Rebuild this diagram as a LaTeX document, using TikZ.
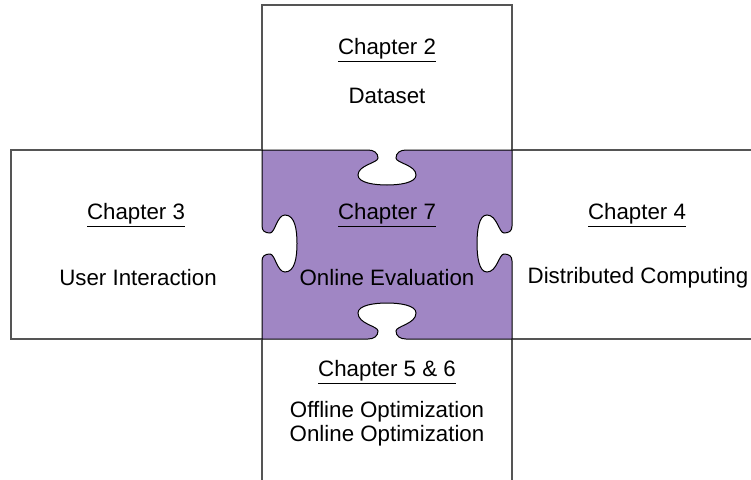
\documentclass[tikz,border=0pt]{standalone}
\usepackage{xcolor}
\usepackage{fontspec}
\setmainfont{Liberation Sans}
\usepackage{tikz}
\definecolor{piecepurple}{RGB}{160,134,196}
\definecolor{boxgray}{RGB}{85,85,85}
\tikzstyle{chapter} = [inner sep=0pt, font=\fontsize{22.3}{24}\selectfont, text centered]
\tikzstyle{topic} = [inner sep=0pt, font=\fontsize{22.3}{24}\selectfont, align=center]
\tikzstyle{frame} = [draw=boxgray, line width=1.5pt]
\tikzstyle{piece} = [draw=black, line width=1pt, fill=piecepurple]

\begin{document}
\begin{tikzpicture}[x=1pt, y=-1pt]

    \useasboundingbox (0,0) rectangle (751,479);

    % Boxes
    \draw [frame] (262,150) -- (262,5) -- (512,5) -- (512,150);
    \draw [frame] (262,150) -- (11,150) -- (11,339) -- (262,339);
    \draw [frame] (512,150) -- (760,150);
    \draw [frame] (512,339) -- (760,339);
    \draw [frame] (262,339) -- (262,485);
    \draw [frame] (512,339) -- (512,485);

    % Puzzle piece
    \draw [piece] (262,150) -- (368,150)
        .. controls (374,150) and (378,153) .. (378,158)
        .. controls (378,163) and (358,165) .. (358,175)
        .. controls (358,183) and (375,185) .. (387,185)
        .. controls (399,185) and (416,183) .. (416,175)
        .. controls (416,165) and (396,163) .. (396,158)
        .. controls (396,153) and (400,150) .. (406,150)
        -- (512,150) -- (512,226)
        .. controls (512,231) and (509,233) .. (504,233)
        .. controls (499,233) and (497,215) .. (487,215)
        .. controls (479,215) and (477,230) .. (477,243.5)
        .. controls (477,257) and (479,272) .. (487,272)
        .. controls (497,272) and (499,254) .. (504,254)
        .. controls (509,254) and (512,256) .. (512,261)
        -- (512,339) -- (406,339)
        .. controls (400,339) and (396,336) .. (396,331)
        .. controls (396,326) and (416,324) .. (416,313)
        .. controls (416,305) and (399,303) .. (387,303)
        .. controls (375,303) and (358,305) .. (358,313)
        .. controls (358,324) and (378,326) .. (378,331)
        .. controls (378,336) and (374,339) .. (368,339)
        -- (262,339) -- (262,261)
        .. controls (262,256) and (265,254) .. (270,254)
        .. controls (275,254) and (277,272) .. (285,272)
        .. controls (295,272) and (297,257) .. (297,243.5)
        .. controls (297,230) and (295,215) .. (285,215)
        .. controls (277,215) and (275,233) .. (270,233)
        .. controls (265,233) and (262,231) .. (262,226)
        -- cycle;

    % Nodes
    \node (ch2) [chapter] at (387,50) {\underline{Chapter 2}};
    \node (dataset) [topic] at (387,96) {Dataset};
    \node (ch3) [chapter] at (136,215) {\underline{Chapter 3}};
    \node (user) [topic] at (138,278) {User Interaction};
    \node (ch7) [chapter] at (387,215) {\underline{Chapter 7}};
    \node (online) [topic] at (387,278) {Online Evaluation};
    \node (ch4) [chapter] at (637,215) {\underline{Chapter 4}};
    \node (distributed) [topic] at (638,278) {Distributed Computing};
    \node (ch56) [chapter] at (387,372) {\underline{Chapter 5 \& 6}};
    \node (optim) [topic] at (387,424) {Offline Optimization\\Online Optimization};

\end{tikzpicture}
\end{document}
